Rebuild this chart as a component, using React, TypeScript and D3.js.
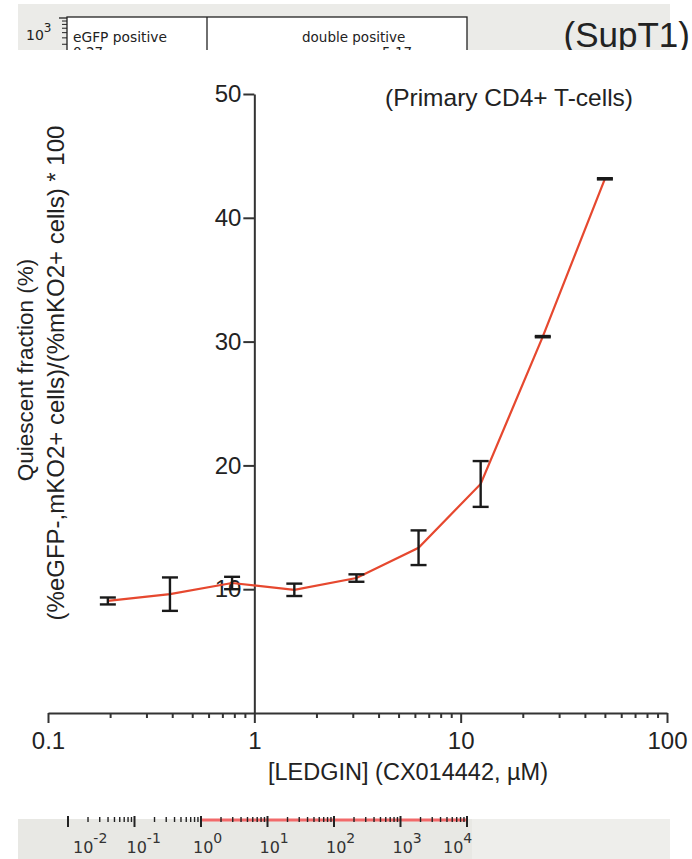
import React, { useEffect, useRef } from 'react';
import * as d3 from 'd3';

// LEDGIN concentration series (µM) and quiescent fraction (%)
const concentrations = [0.195, 0.39, 0.78, 1.5625, 3.125, 6.25, 12.5, 25, 50];
const quiescentMean = [9.05, 9.6, 10.5, 9.95, 10.9, 13.35, 18.5, 30.4, 43.15];
const quiescentErr = [0.28, 1.35, 0.5, 0.5, 0.3, 1.4, 1.85, 0.05, 0.05];

const yTickValues = [10, 20, 30, 40, 50];
const xMajorTicks = [0.1, 1, 10, 100];
const xTickLabels = ['0.1', '1', '10', '100'];

// cropped neighbouring panels (flow cytometry axes)
const stripDecades = [-2, -1, 0, 1, 2, 3, 4];
const stripGateLabels = ['eGFP positive', 'double positive'];
const stripGateValues = ['0.27', '5.17'];

const W = 692;
const H = 859;
const SANS = '"Liberation Sans", Arial, Helvetica, sans-serif';
const UI = '"DejaVu Sans", Verdana, sans-serif';

const App = () => {
  const svgRef = useRef<SVGSVGElement>(null);

  useEffect(() => {
    const svg = d3.select(svgRef.current);
    svg.selectAll('*').remove();

    // ---------- top strip (cropped SupT1 panel) ----------
    svg.append('clipPath').attr('id', 'topclip')
      .append('rect').attr('x', 0).attr('y', 0).attr('width', W).attr('height', 50);
    const top = svg.append('g').attr('clip-path', 'url(#topclip)');
    top.append('rect').attr('x', 18).attr('y', 4).attr('width', 652).attr('height', 50).attr('fill', '#ebebe8');
    top.append('rect').attr('x', 67).attr('y', 17).attr('width', 400).attr('height', 60)
      .attr('fill', '#fff').attr('stroke', '#222').attr('stroke-width', 1.3);
    top.append('line').attr('x1', 207).attr('x2', 207).attr('y1', 17).attr('y2', 60)
      .attr('stroke', '#222').attr('stroke-width', 1.3);

    const stripY = d3.scaleLog().domain([100, 1000]).range([84, 18]);
    const yMinor = d3.range(3, 10).map(m => m * 100);
    top.selectAll('.ymin').data(yMinor).enter().append('line')
      .attr('x1', 62).attr('x2', 67)
      .attr('y1', d => stripY(d)).attr('y2', d => stripY(d))
      .attr('stroke', '#222').attr('stroke-width', 1);
    top.append('line').attr('x1', 59).attr('x2', 67).attr('y1', stripY(1000)).attr('y2', stripY(1000))
      .attr('stroke', '#222').attr('stroke-width', 1.3);
    const t3 = top.append('text').attr('x', 26).attr('y', 40).attr('font-family', UI)
      .attr('font-size', 14).attr('fill', '#222');
    t3.append('tspan').text('10');
    t3.append('tspan').attr('dy', -8).attr('font-size', 12).text('3');

    top.append('text').attr('x', 73).attr('y', 42).attr('font-family', UI).attr('font-size', 13.8)
      .attr('fill', '#222').text(stripGateLabels[0]);
    top.append('text').attr('x', 302).attr('y', 42).attr('font-family', UI).attr('font-size', 13.5)
      .attr('fill', '#222').text(stripGateLabels[1]);
    top.append('text').attr('x', 73).attr('y', 57).attr('font-family', UI).attr('font-size', 13.5)
      .attr('fill', '#222').text(stripGateValues[0]);
    top.append('text').attr('x', 382).attr('y', 57).attr('font-family', UI).attr('font-size', 13.5)
      .attr('fill', '#222').text(stripGateValues[1]);
    top.append('text').attr('x', 690).attr('y', 47).attr('text-anchor', 'end')
      .attr('font-family', SANS).attr('font-size', 35).attr('fill', '#222').text('(SupT1)');

    // ---------- bottom strip (cropped log axis) ----------
    svg.append('rect').attr('x', 18).attr('y', 819).attr('width', 454).attr('height', 40).attr('fill', '#e8e8e4');
    svg.append('rect').attr('x', 472).attr('y', 819).attr('width', 198).attr('height', 40).attr('fill', '#eeeeeb');
    const stripX = d3.scaleLog().domain([0.01, 10000]).range([68, 467]);
    svg.append('line').attr('x1', stripX(1)).attr('x2', stripX(10000)).attr('y1', 820).attr('y2', 820)
      .attr('stroke', '#f26a6a').attr('stroke-width', 3);
    const stripMinor: number[] = [];
    stripDecades.slice(0, -1).forEach(k => {
      for (let m = 2; m < 10; m++) stripMinor.push(m * Math.pow(10, k));
    });
    svg.selectAll('.smin').data(stripMinor).enter().append('line')
      .attr('x1', d => stripX(d)).attr('x2', d => stripX(d))
      .attr('y1', 817).attr('y2', 822)
      .attr('stroke', '#222').attr('stroke-width', 1.4);
    svg.selectAll('.smaj').data(stripDecades).enter().append('line')
      .attr('x1', d => stripX(Math.pow(10, d))).attr('x2', d => stripX(Math.pow(10, d)))
      .attr('y1', 816).attr('y2', 827)
      .attr('stroke', '#222').attr('stroke-width', 2);
    const sl = svg.selectAll('.slab').data(stripDecades).enter().append('text')
      .attr('x', d => stripX(Math.pow(10, d)) + (d === -2 ? 5 : d === 4 ? -24 : -8))
      .attr('y', 853).attr('font-family', UI).attr('font-size', 16).attr('fill', '#333');
    sl.append('tspan').text('10');
    sl.append('tspan').attr('dy', -10).attr('font-size', 14).text(d => String(d));

    // ---------- main chart ----------
    const x = d3.scaleLog().domain([0.1, 100]).range([48, 667]);
    const y = d3.scaleLinear().domain([0, 50]).range([713, 94]);
    const axisColor = '#333';

    // x axis, minor ticks first
    const xMinor: number[] = [];
    [0.1, 1, 10].forEach(b => { for (let m = 2; m < 10; m++) xMinor.push(m * b); });
    const xMinorAxis = d3.axisBottom(x).tickValues(xMinor).tickSize(5).tickFormat(() => '');
    svg.append('g').attr('transform', 'translate(0,713)').call(xMinorAxis)
      .call(g => {
        g.select('.domain').remove();
        g.selectAll('.tick line').attr('stroke', axisColor).attr('stroke-width', 2);
      });
    const xAxis = d3.axisBottom(x).tickValues(xMajorTicks).tickSize(10).tickSizeOuter(0).tickPadding(9)
      .tickFormat((d, i) => xTickLabels[i]);
    svg.append('g').attr('transform', 'translate(0,713)').call(xAxis)
      .call(g => {
        g.select('.domain').attr('stroke', axisColor).attr('stroke-width', 2);
        g.selectAll('.tick line').attr('stroke', axisColor).attr('stroke-width', 2);
        g.selectAll('.tick text').attr('font-family', SANS).attr('font-size', 24).attr('fill', '#222');
      });

    // y axis crossing at x = 1
    const yAxis = d3.axisLeft(y).tickValues(yTickValues).tickSize(11).tickSizeOuter(0).tickPadding(2);
    svg.append('g').attr('transform', `translate(${x(1)},0)`).call(yAxis)
      .call(g => {
        g.select('.domain').attr('stroke', axisColor).attr('stroke-width', 2);
        g.selectAll('.tick line').attr('stroke', axisColor).attr('stroke-width', 2);
        g.selectAll('.tick text').attr('font-family', SANS).attr('font-size', 24).attr('fill', '#222');
      });

    // line
    const pts = concentrations.map((c, i) => [c, quiescentMean[i]] as [number, number]);
    const line = d3.line<[number, number]>().x(d => x(d[0])).y(d => y(d[1]));
    svg.append('path').datum(pts).attr('d', line).attr('fill', 'none')
      .attr('stroke', '#e6482f').attr('stroke-width', 2.2);

    // error bars
    const eb = svg.append('g').attr('stroke', '#1a1a1a').attr('stroke-width', 2.4);
    concentrations.forEach((c, i) => {
      const cx = x(c);
      const y1 = y(quiescentMean[i] + quiescentErr[i]);
      const y2 = y(quiescentMean[i] - quiescentErr[i]);
      eb.append('line').attr('x1', cx).attr('x2', cx).attr('y1', y1).attr('y2', y2);
      eb.append('line').attr('x1', cx - 8).attr('x2', cx + 8).attr('y1', y1).attr('y2', y1);
      eb.append('line').attr('x1', cx - 8).attr('x2', cx + 8).attr('y1', y2).attr('y2', y2);
    });

    // labels
    svg.append('text').attr('x', 408).attr('y', 780).attr('text-anchor', 'middle')
      .attr('font-family', SANS).attr('font-size', 23.5).attr('fill', '#222')
      .text('[LEDGIN] (CX014442, µM)');
    svg.append('text').attr('x', 509).attr('y', 106).attr('text-anchor', 'middle')
      .attr('font-family', SANS).attr('font-size', 24.5).attr('fill', '#222')
      .text('(Primary CD4+ T-cells)');
    svg.append('text').attr('transform', 'translate(33,370) rotate(-90)').attr('text-anchor', 'middle')
      .attr('font-family', SANS).attr('font-size', 22.5).attr('fill', '#222')
      .text('Quiescent fraction (%)');
    svg.append('text').attr('transform', 'translate(64,373) rotate(-90)').attr('text-anchor', 'middle')
      .attr('font-family', SANS).attr('font-size', 24).attr('fill', '#222')
      .text('(%eGFP-,mKO2+ cells)/(%mKO2+ cells) * 100');
  }, []);

  return (
    <div style={{ position: 'absolute', left: 0, top: 0, background: '#fff' }}>
      <svg ref={svgRef} width={W} height={H} style={{ display: 'block' }} />
    </div>
  );
};

export default App;
